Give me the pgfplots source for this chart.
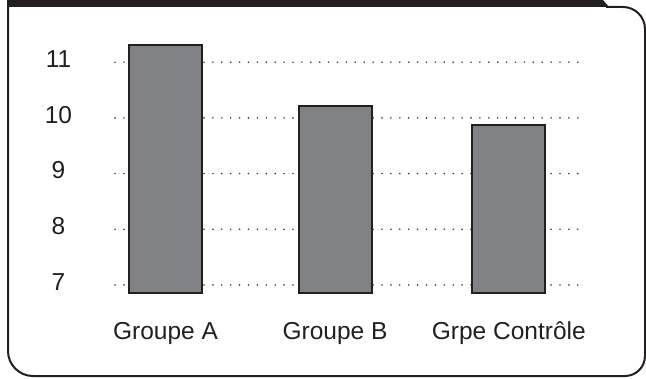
\documentclass[border=0pt]{standalone}
\usepackage{fontspec}
\setmainfont{Liberation Sans}
\usepackage{pgfplots}
\usepackage{pgfplotstable}
\pgfplotsset{compat=1.18}

\definecolor{framecol}{RGB}{35,31,32}
\definecolor{barfill}{RGB}{128,129,133}
\definecolor{gridcol}{RGB}{60,58,60}

% mean score per group; x gives the bar centre
\pgfplotstableread{
x      v
165.5  11.31
335.0  10.21
508.8  9.87
}\scores

\begin{document}
\begin{tikzpicture}[x=1pt,y=1pt]
\useasboundingbox (0,0) rectangle (646,378);

% card outline with the dark header strip
\fill[framecol] (7,378) -- (603,378) -- (609,371) -- (7,371) -- cycle;
\draw[framecol, line width=2pt]
  (8,378) -- (8,27) arc[start angle=180,end angle=270,radius=25]
  -- (625,2) arc[start angle=270,end angle=360,radius=20]
  -- (645,349) arc[start angle=0,end angle=90,radius=22]
  -- (606,371);

\begin{axis}[
  at={(115pt,81.9pt)}, anchor=south west,
  scale only axis, width=470pt, height=256.2pt,
  xmin=115, xmax=585, ymin=6.8, ymax=11.4,
  ybar stacked, bar width=73,
  axis line style={draw=none}, tick style={draw=none},
  ytick={7,8,9,10,11},
  xtick={165.5,335.0,508.8},
  xticklabels={Groupe A, Groupe B, Grpe Contrôle},
  ymajorgrids,
  grid style={gridcol, line width=1.8pt, line cap=round, dash pattern=on 0pt off 8.9pt},
  /pgf/number format/assume math mode=true,
  ticklabel style={font=\fontsize{24.5}{28}\selectfont, text=framecol},
  yticklabel style={anchor=base, xshift=-56.5pt, yshift=-5.2pt, inner sep=0pt},
  xticklabel style={anchor=base, yshift=-43.2pt, inner sep=0pt},
]
% invisible base so bars begin at 6.85
\addplot[draw=none, fill=none, forget plot] table[x=x, y expr=6.85] \scores;
\addplot[fill=barfill, draw=framecol, line width=2pt] table[x=x, y expr=\thisrow{v}-6.85] \scores;
\end{axis}
\end{tikzpicture}
\end{document}
